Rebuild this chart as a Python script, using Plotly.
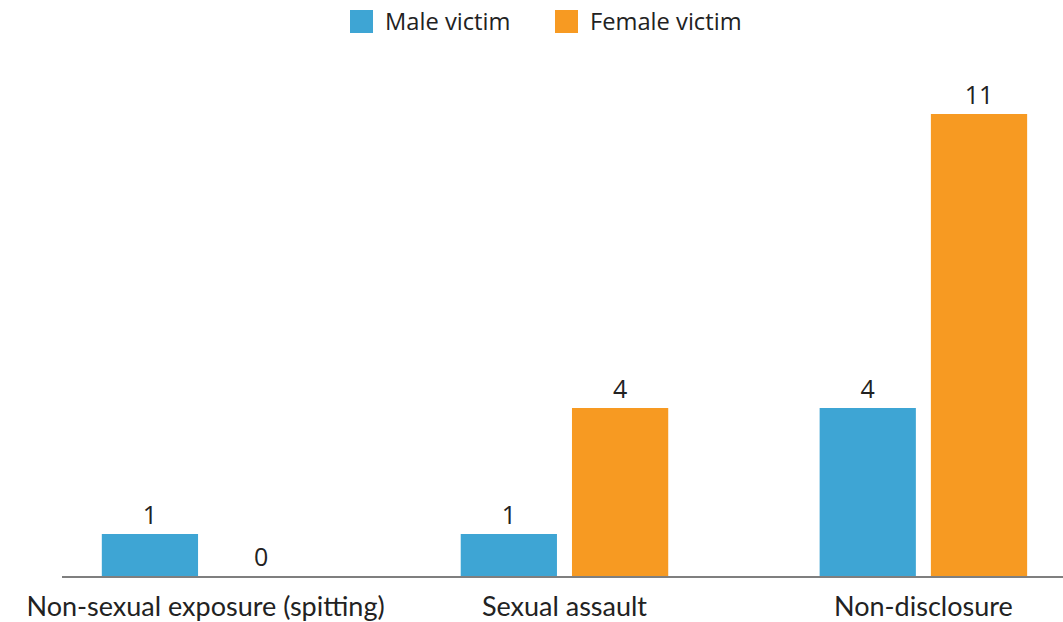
import plotly.graph_objects as go

categories = ["Non-sexual exposure (spitting)", "Sexual assault", "Non-disclosure"]
male_victim = [1, 1, 4]
female_victim = [0, 4, 11]
series_names = ["Male victim", "Female victim"]
colors = ["#3EA5D4", "#F79A22"]

W, H = 1063, 622
ML, MR, MT, MB = 62, 0, 60, 46
PW, PH = W - ML - MR, H - MT - MB

def px_x(x):
    return (x - ML) / PW

def px_y(y):
    return (H - MB - y) / PH

fig = go.Figure()
for name, vals, col in zip(series_names, [male_victim, female_victim], colors):
    fig.add_trace(go.Bar(
        x=categories, y=vals, name=name, marker_color=col,
        marker_line_width=0,
        text=[str(v) for v in vals], textposition="outside",
        textfont=dict(family="Open Sans", size=25, color="#222222"),
        cliponaxis=False, showlegend=False,
    ))

fig.update_layout(
    width=W, height=H,
    margin=dict(l=ML, r=MR, t=MT, b=MB),
    paper_bgcolor="white", plot_bgcolor="white",
    barmode="group", bargap=0.38, bargroupgap=0.135,
    xaxis=dict(
        range=[-0.4, 2.389], showgrid=False, zeroline=False,
        showline=True, linecolor="rgba(0,0,0,0.5)", linewidth=2,
        ticks="", tickfont=dict(family="Lato", size=27, color="#222222"),
        ticklabelstandoff=6,
    ),
    yaxis=dict(range=[0, PH / 42.0], visible=False),
)

# legend drawn manually to match large square swatches
leg = [(350, 383), (555, 588)]
for (sx, tx), name, col in zip(leg, series_names, colors):
    fig.add_shape(type="rect", xref="paper", yref="paper",
                  x0=px_x(sx), x1=px_x(sx + 23), y0=px_y(33), y1=px_y(10),
                  fillcolor=col, line_width=0)
    fig.add_annotation(xref="paper", yref="paper", x=px_x(tx), y=px_y(20.5),
                       xanchor="left", yanchor="middle", showarrow=False,
                       text=name, font=dict(family="Open Sans", size=23.7, color="#222222"))

fig.write_html("out.html", config={"displayModeBar": False},
               post_script="document.body.style.margin='0';document.body.style.overflow='hidden';")
